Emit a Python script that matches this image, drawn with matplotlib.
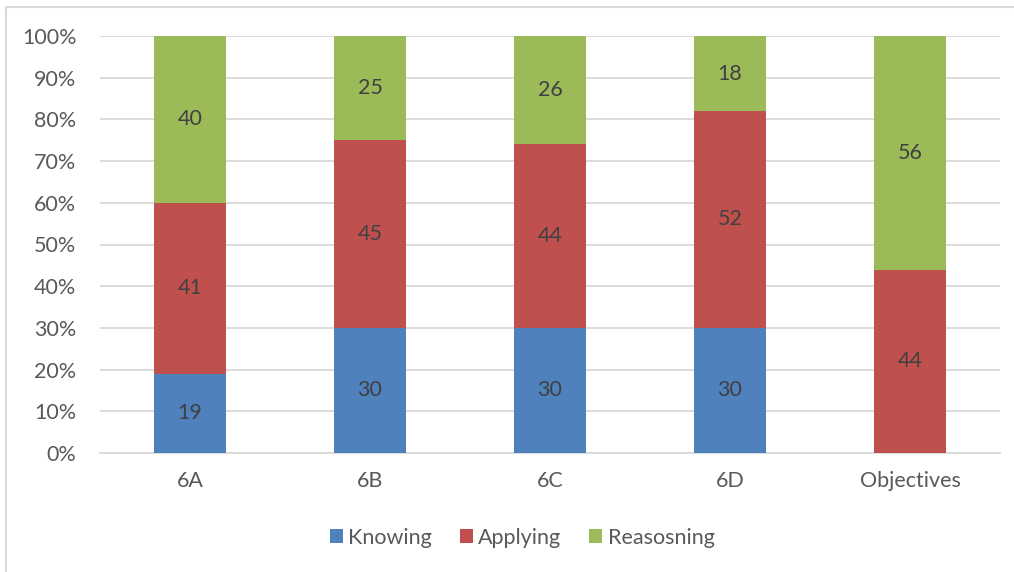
import matplotlib.pyplot as plt
from matplotlib.patches import Rectangle
from matplotlib.ticker import PercentFormatter

categories = ['6A', '6B', '6C', '6D', 'Objectives']
knowing = [19, 30, 30, 30, 0]
applying = [41, 45, 44, 52, 44]
reasoning = [40, 25, 26, 18, 56]

colors = ['#4F81BD', '#C0504D', '#9BBB59']
txt = '#595959'
grid = '#D9D9D9'

plt.rcParams['font.family'] = ['Lato', 'DejaVu Sans']
fs = 15.5

fig = plt.figure(figsize=(10.14, 5.72), dpi=100)
ax = fig.add_axes([100 / 1014, (572 - 453) / 572, 900 / 1014, (453 - 36) / 572])

# chart frame
fig.patches.append(Rectangle((6 / 1014, -0.1), 1.2, (572 - 6.5) / 572 + 0.1,
                             transform=fig.transFigure, fill=False,
                             edgecolor=grid, linewidth=1.5))

x = range(len(categories))
w = 0.405
bottoms = [0] * len(categories)
for vals, c, lab in zip([knowing, applying, reasoning], colors,
                        ['Knowing', 'Applying', 'Reasosning']):
    bars = ax.bar(x, vals, w, bottom=bottoms, color=c, label=lab, zorder=3)
    for b, v in zip(bars, vals):
        if v > 0:
            ax.text(b.get_x() + b.get_width() / 2, b.get_y() + v / 2, str(v),
                    ha='center', va='center', fontsize=fs, color='#404040', zorder=4)
    bottoms = [bt + v for bt, v in zip(bottoms, vals)]

ax.set_xlim(-0.5, len(categories) - 0.5)
ax.set_ylim(0, 100)
ax.set_yticks(range(0, 101, 10))
ax.yaxis.set_major_formatter(PercentFormatter(decimals=0))
ax.set_xticks(list(x))
ax.set_xticklabels(categories)
ax.grid(axis='y', color=grid, linewidth=1.3, zorder=0)
for s in ['top', 'right', 'left']:
    ax.spines[s].set_visible(False)
ax.spines['bottom'].set_color(grid)
ax.spines['bottom'].set_linewidth(1.3)
ax.tick_params(axis='both', length=0, labelsize=fs, colors=txt)
ax.tick_params(axis='x', pad=13)
ax.tick_params(axis='y', pad=17)

ax.legend(loc='center', bbox_to_anchor=(0.469, -0.203), ncol=3, frameon=False,
          fontsize=fs, labelcolor=txt, handlelength=0.6, handleheight=0.6,
          handletextpad=0.25, columnspacing=1.3)

fig.savefig('out.png', dpi=100)
